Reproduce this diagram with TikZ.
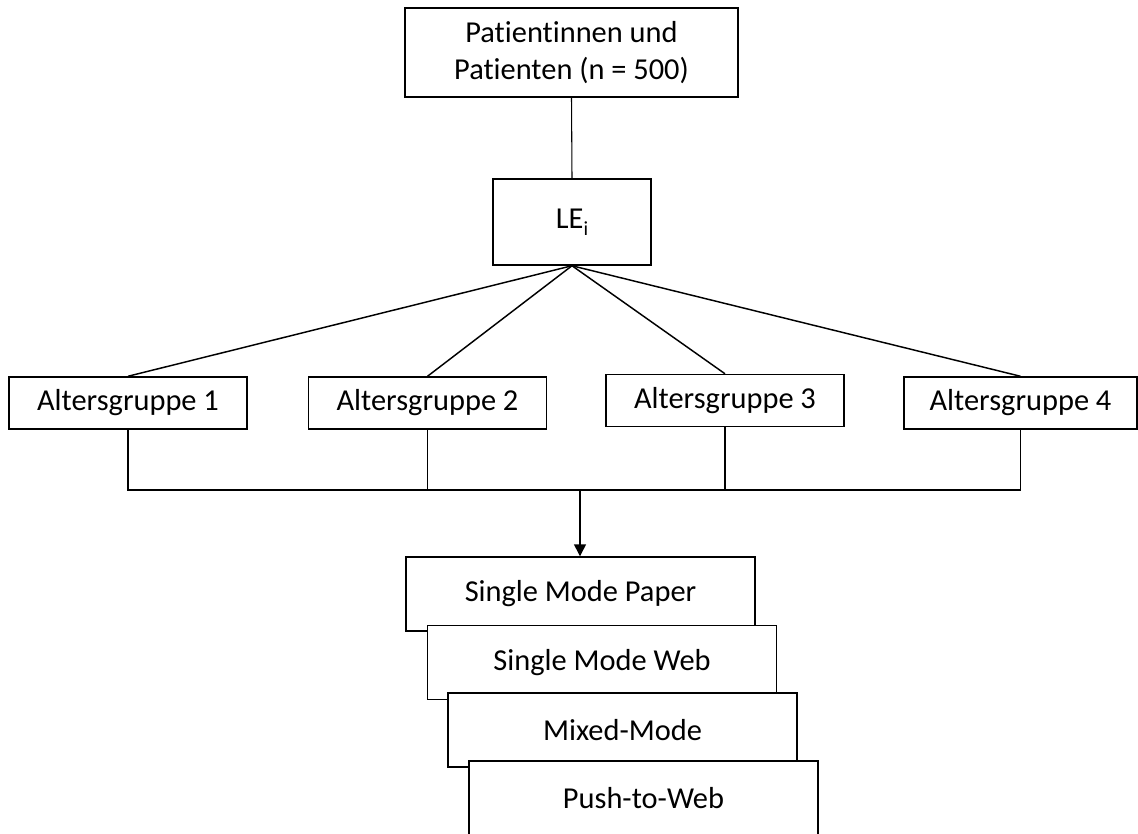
\documentclass[tikz,border=0pt]{standalone}
\usepackage{fontspec}
\setmainfont{Carlito}[Ligatures=NoCommon]
\usetikzlibrary{arrows.meta}

\begin{document}
\begin{tikzpicture}[x=0.75pt,y=-0.75pt,
    box/.style={draw,line width=1.1pt,fill=white,inner sep=0pt,align=center,
      font=\fontsize{22.8}{28}\selectfont},
    agebox/.style={box,minimum width=178.5pt,minimum height=39pt},
    modebox/.style={box,minimum width=261.75pt,minimum height=55.5pt},
    link/.style={line width=1.1pt}]
  \useasboundingbox (0,0) rectangle (1138,833);

  % Stichprobe und Lebensereignis
  \node[box,minimum width=249.75pt,minimum height=66.75pt] (pat) at (571.5,52.5)
    {Patientinnen und\\Patienten (n = 500)};
  \node[box,minimum width=118.5pt,minimum height=64.5pt] (le) at (572,222)
    {LE\raisebox{-0.45ex}{\fontsize{15}{15}\selectfont i}};
  \draw[line width=0.8pt] (pat.south) -- (le.north);

  % Altersgruppen
  \node[agebox] (ag1) at (128,403) {Altersgruppe 1};
  \node[agebox] (ag2) at (427.5,403) {Altersgruppe 2};
  \node[agebox] (ag3) at (725,400.5) {Altersgruppe 3};
  \node[agebox,minimum width=174.75pt] (ag4) at (1020.5,403) {Altersgruppe 4};
  \foreach \g in {ag1,ag2,ag3,ag4}
    \draw[link] (le.south) -- (\g.north);

  \coordinate (bus) at (580,490);
  \draw[link] (ag1.south) -- (ag1.south |- bus) -- (ag4.south |- bus) -- (ag4.south);
  \draw[link] (ag2.south) -- (ag2.south |- bus);
  \draw[link] (ag3.south) -- (ag3.south |- bus);

  % Erhebungsmodi
  \node[modebox] (paper) at (580.5,594) {Single Mode Paper};
  \node[modebox] (web) at (602,662.5) {Single Mode Web};
  \node[modebox] (mixed) at (622.5,730) {Mixed-Mode};
  \node[modebox] (push) at (643.5,798) {Push-to-Web};

  \draw[link,-{Triangle[width=9pt,length=9pt]}] (bus) -- (bus |- paper.north);
\end{tikzpicture}
\end{document}
